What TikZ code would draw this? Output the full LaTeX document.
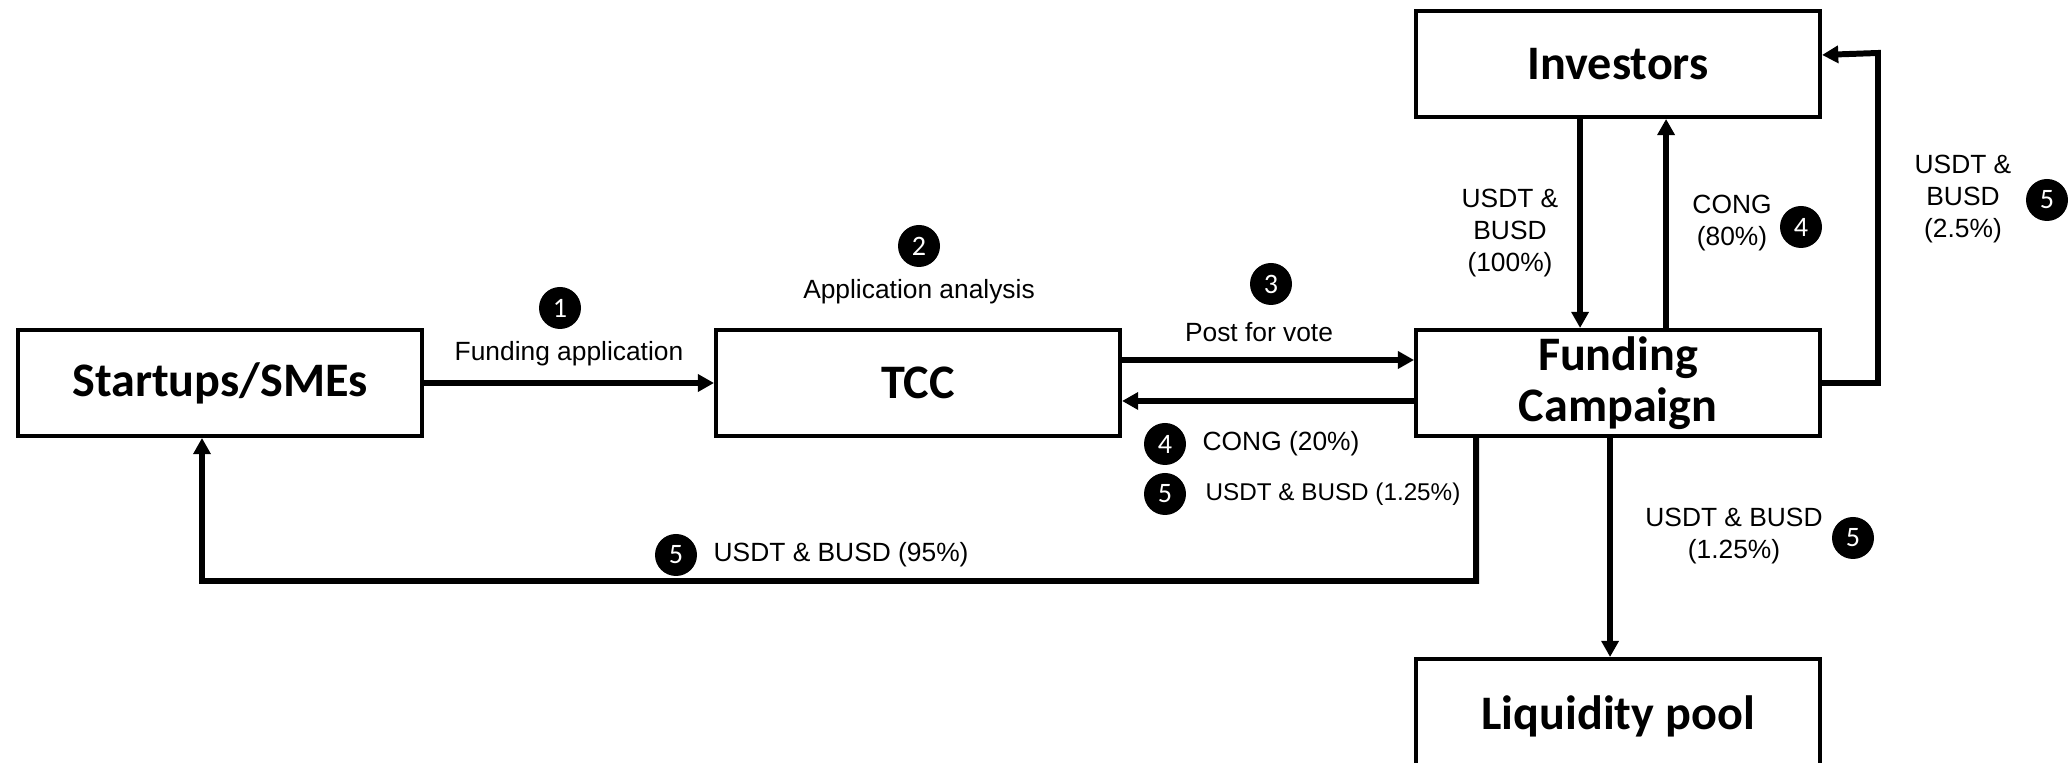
\documentclass[tikz,border=0pt]{standalone}
\usepackage{fontspec}
\setmainfont{Liberation Sans}
\newfontfamily\boxfont{Carlito}
\usepackage{tikz}
\usetikzlibrary{positioning, arrows.meta}
\tikzstyle{block} = [rectangle, minimum width=4.04cm, minimum height=1.06cm, text centered, draw=black, line width=1.15pt, font=\boxfont\bfseries\fontsize{13.7}{14.6}\selectfont]
\tikzstyle{arrow} = [line width=1.7pt, -{Triangle[length=4.6pt, width=4.8pt]}]
\tikzstyle{stepnum} = [circle, fill=black, text=white, inner sep=0pt, minimum size=0.42cm, font=\boxfont\fontsize{8}{8}\selectfont]
\tikzstyle{lbl} = [font=\fontsize{7.5}{9.2}\selectfont, align=center, inner sep=0pt]

\begin{document}
\begin{tikzpicture}
		\useasboundingbox (0,0) rectangle (20.71,-7.63);
		% Nodes
		\node (startups) [block] at (2.20,-3.83) {Startups/SMEs};
		\node (tcc) [block, right=2.90cm of startups] {TCC};
		\node (funding) [block, right=2.92cm of tcc, align=center, inner sep=0pt] {Funding\\Campaign};
		\node (investors) [block, above=2.09cm of funding] {Investors};
		\node (liquidity) [block, below=2.19cm of funding, minimum height=1.15cm] {Liquidity pool};
		
		% Labels
		\node (n1) [stepnum] at (5.60,-3.08) {1};
		\node (lbl1) [lbl] at (5.69,-3.54) {Funding application};
		\node (n2) [stepnum] at (9.19,-2.46) {2};
		\node (lbl2) [lbl] at (9.19,-2.92) {Application analysis};
		\node (n3) [stepnum] at (12.71,-2.84) {3};
		\node (lbl3) [lbl] at (12.59,-3.32) {Post for vote};
		\node (n4tcc) [stepnum] at (11.65,-4.44) {4};
		\node (lbl4tcc) [lbl, anchor=west] at (12.02,-4.44) {CONG (20\%)};
		\node (n5tcc) [stepnum] at (11.65,-4.94) {5};
		\node (lbl5tcc) [lbl, anchor=west, font=\fontsize{6.9}{8}\selectfont] at (12.05,-4.94) {USDT \& BUSD (1.25\%)};
		\node (n5ret) [stepnum] at (6.76,-5.55) {5};
		\node (lbl5ret) [lbl, anchor=west] at (7.13,-5.55) {USDT \& BUSD (95\%)};
		\node (lbl5pool) [lbl] at (17.34,-5.36) {USDT \& BUSD\\(1.25\%)};
		\node (n5pool) [stepnum] at (18.53,-5.38) {5};
		\node (lblinv) [lbl] at (15.10,-2.33) {USDT \&\\BUSD\\(100\%)};
		\node (lbl4inv) [lbl] at (17.32,-2.23) {CONG\\(80\%)};
		\node (n4inv) [stepnum] at (18.01,-2.27) {4};
		\node (lbl5loop) [lbl] at (19.63,-1.99) {USDT \&\\BUSD\\(2.5\%)};
		\node (n5loop) [stepnum] at (20.47,-2.00) {5};
		
		% Arrows
		\draw [arrow] (startups) -- (tcc);
		\draw [arrow] ([yshift=2.3mm]tcc.east) -- ([yshift=2.3mm]tcc.east -| funding.west);
		\draw [arrow] ([yshift=-1.8mm]funding.west) -- ([yshift=-1.8mm]funding.west -| tcc.east);
		\coordinate (retcorner) at (2.02,-5.81);
		\draw [arrow] ([xshift=-14.2mm]funding.south) |- (retcorner) -- ([xshift=-1.8mm]startups.south);
		\draw [arrow] ([xshift=-0.8mm]funding.south) -- ([xshift=-0.8mm]liquidity.north);
		\draw [arrow] ([xshift=-3.8mm]investors.south) -- ([xshift=-3.8mm]funding.north);
		\draw [arrow] ([xshift=4.8mm]funding.north) -- ([xshift=4.8mm]investors.south);
		\coordinate (loopcorner) at (18.78,-0.53);
		\draw [arrow] (funding.east) -| (loopcorner) -- ([yshift=0.9mm]investors.east);
	\end{tikzpicture}
\end{document}
